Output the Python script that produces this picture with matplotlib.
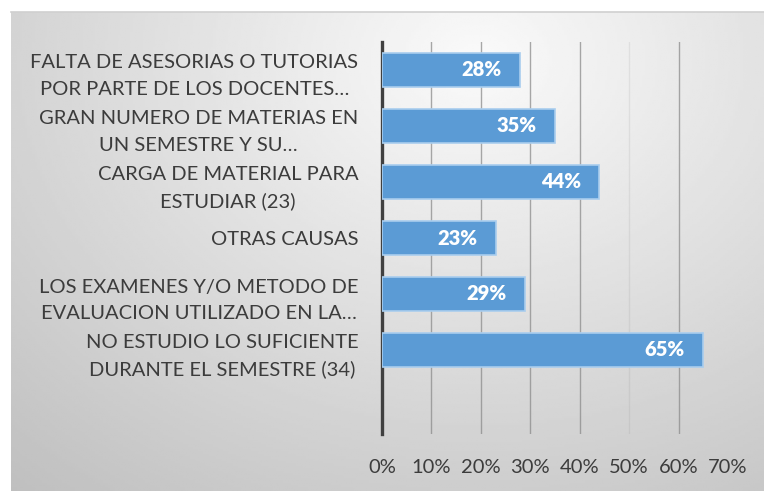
import matplotlib.pyplot as plt
import numpy as np

# categories, bottom to top as drawn
labels = ["NO ESTUDIO LO SUFICIENTE\nDURANTE EL SEMESTRE (34)",
          "LOS EXAMENES Y/O METODO DE\nEVALUACION UTILIZADO EN LA…",
          "OTRAS CAUSAS",
          "CARGA DE MATERIAL PARA\nESTUDIAR (23)",
          "GRAN NUMERO DE MATERIAS EN\nUN SEMESTRE Y SU…",
          "FALTA DE ASESORIAS O TUTORIAS\nPOR PARTE DE LOS DOCENTES…"]
values = [0.65, 0.29, 0.23, 0.44, 0.35, 0.28]
xticks = [0, 0.1, 0.2, 0.3, 0.4, 0.5, 0.6, 0.7]

plt.rcParams['font.family'] = ['Lato', 'DejaVu Sans']

fig = plt.figure(figsize=(7.64, 4.91), dpi=100)

# gray gradient panel behind the chart
bg = fig.add_axes([11/764, 0, 1 - 11/764, 1 - 12/491], zorder=-1)
gx, gy = np.meshgrid(np.linspace(0, 1, 300), np.linspace(1, 0, 200))
d = np.sqrt(((gx - 0.62) * 1.0) ** 2 + ((gy - 0.9) * 0.8) ** 2)
shade = np.clip(250 - 62 * d, 190, 250) / 255.0
bg.imshow(shade, cmap='gray', vmin=0, vmax=1, aspect='auto', extent=[0, 1, 0, 1])
bg.set_xlim(0, 1)
bg.set_ylim(0, 1)
bg.axis('off')
bg.plot([0, 1], [1, 1], color='#d0d0d0', lw=1.2, clip_on=False)

ax = fig.add_axes([382/764, 1 - 434/491, (728 - 382)/764, (434 - 42)/491])
ax.patch.set_alpha(0)
y = np.arange(len(values))
bars = ax.barh(y, values, height=0.62, color='#5b9bd5', edgecolor='#a9cdee', linewidth=1.2, zorder=3)

for yi, v in zip(y, values):
    ax.text(v - 0.038, yi, f"{round(v * 100)}%", ha='right', va='center',
            color='white', fontsize=14.5, fontweight='heavy', zorder=4)

ax.set_xlim(0, 0.7)
ax.set_ylim(-1.5, 5.5)
ax.set_yticks(y)
ax.set_yticklabels(labels, fontsize=14.5, color='#3c3c3c', linespacing=1.65, ha='right')
for tl in ax.get_yticklabels():
    tl.set_multialignment('center')
ax.set_xticks(xticks)
ax.set_xticklabels([f"{round(t * 100)}%" for t in xticks], fontsize=14.5, color='#3c3c3c')
ax.tick_params(axis='both', length=0)
ax.tick_params(axis='x', pad=18)
ax.tick_params(axis='y', pad=17)

for t in xticks[1:-1]:
    a = 0.15 if t == 0.5 else 0.75
    ax.axvline(t, color='#8c8c8c', lw=1.0, alpha=a, zorder=1)

for s in ['top', 'right', 'bottom']:
    ax.spines[s].set_visible(False)
ax.spines['left'].set_color('#404040')
ax.spines['left'].set_linewidth(2.4)

fig.savefig('out.png', dpi=100)
